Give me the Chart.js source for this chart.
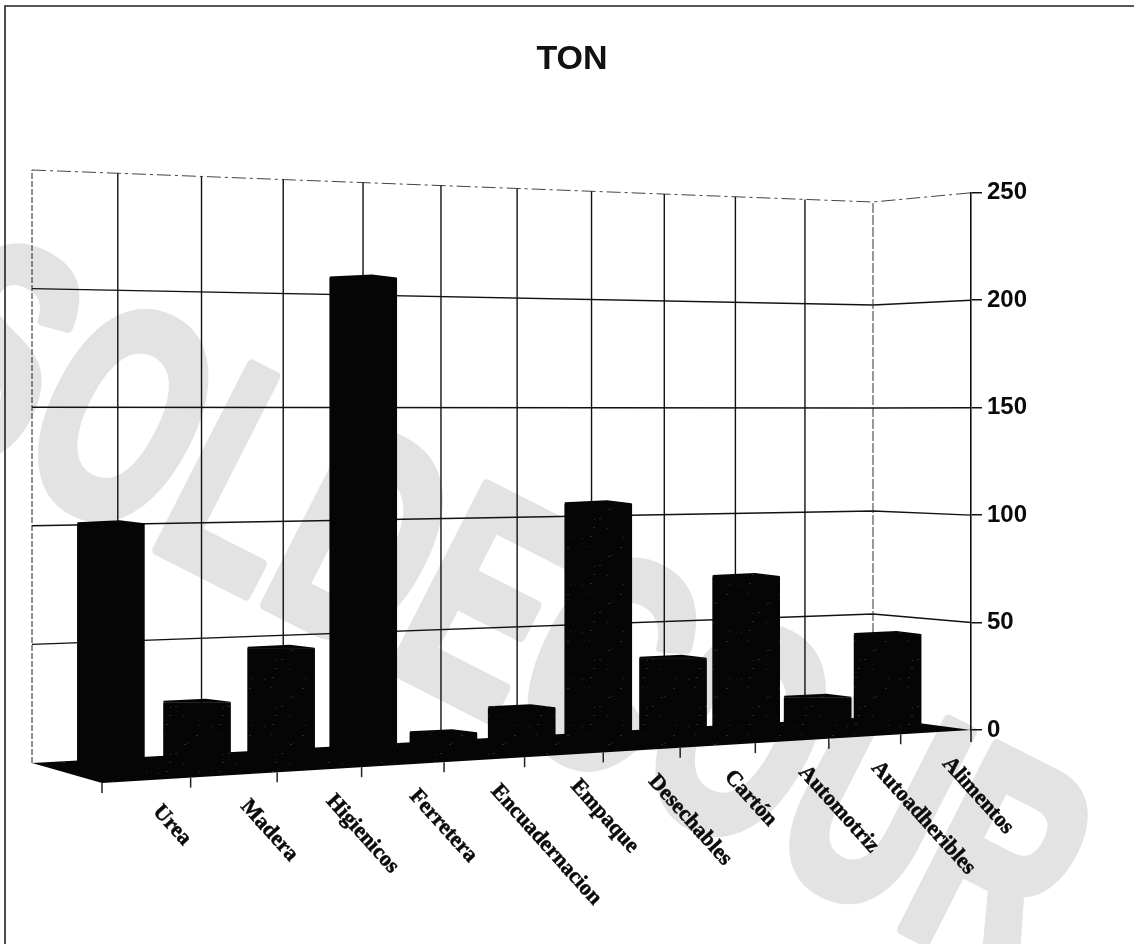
<!DOCTYPE html>
<html lang="es">
<head>
<meta charset="utf-8">
<title>TON</title>
<script src="https://cdn.jsdelivr.net/npm/chart.js@4"></script>
<style>
    html, body { margin: 0; background: #fff; }
    canvas { display: block; }
</style>
</head>
<body>
<canvas id="tonChart" width="1134" height="944"></canvas>
<script>
const categorias = ['Urea', 'Madera', 'Higienicos', 'Ferretera', 'Encuadernacion', 'Empaque',
    'Desechables', 'Cartón', 'Automotriz', 'Autoadheribles', 'Alimentos'];
const toneladas = [101, 27, 48, 204, 9, 18, 107, 37, 73, 16, 44];
const ticksY = [0, 50, 100, 150, 200, 250];

// Floor of the 3D box (back/front, left/right) and the height of the full axis at each corner
const PISO = {
    fondoIzq: [32, 763], fondoDer: [873, 717],
    frenteIzq: [102, 783], frenteDer: [971, 730]
};
const ALTO = { fondoIzq: 593, fondoDer: 515, frenteIzq: 650, frenteDer: 538 };

const lerp = (a, b, t) => a + (b - a) * t;

// The spacing of the categories shrinks towards the far end
function fuga(u) {
    const k = 1.136;
    return k * u / (1 + (k - 1) * u);
}

function punto(u, d) {
    const f = fuga(u);
    const x0 = lerp(PISO.fondoIzq[0], PISO.fondoDer[0], f);
    const y0 = lerp(PISO.fondoIzq[1], PISO.fondoDer[1], f);
    const x1 = lerp(PISO.frenteIzq[0], PISO.frenteDer[0], f);
    const y1 = lerp(PISO.frenteIzq[1], PISO.frenteDer[1], f);
    return [lerp(x0, x1, d), lerp(y0, y1, d)];
}

function alto(u, d) {
    const f = fuga(u);
    return lerp(lerp(ALTO.fondoIzq, ALTO.fondoDer, f), lerp(ALTO.frenteIzq, ALTO.frenteDer, f), d);
}

function linea(ctx, puntos, color, ancho, dash) {
    ctx.save();
    ctx.strokeStyle = color;
    ctx.lineWidth = ancho;
    ctx.setLineDash(dash || []);
    ctx.beginPath();
    puntos.forEach((p, i) => i ? ctx.lineTo(p[0], p[1]) : ctx.moveTo(p[0], p[1]));
    ctx.stroke();
    ctx.restore();
}

// Scan grain of the dark areas
function patronGrano() {
    const c = document.createElement('canvas');
    c.width = 53;
    c.height = 47;
    const g = c.getContext('2d');
    g.fillStyle = '#050505';
    g.fillRect(0, 0, 53, 47);
    g.fillStyle = '#2b2b2b';
    for (let i = 1; i < 12; i++) {
        g.fillRect((i * i * 7) % 53, (i * 19) % 47, 1 + i % 2, 1);
    }
    return g.createPattern(c, 'repeat');
}
const grano = patronGrano();

const caja3d = {
    id: 'caja3d',

    // Watermark and page frame go under everything
    beforeDraw(chart) {
        const ctx = chart.ctx;
        ctx.save();
        ctx.fillStyle = '#fff';
        ctx.fillRect(0, 0, chart.width, chart.height);
        ctx.translate(-110, 413);
        ctx.rotate(27 * Math.PI / 180);
        ctx.scale(0.66, 1);
        ctx.fillStyle = '#e3e3e3';
        ctx.strokeStyle = '#e3e3e3';
        ctx.lineWidth = 12;
        ctx.lineJoin = 'round';
        ctx.font = 'bold 300px "Liberation Sans"';
        ctx.textBaseline = 'alphabetic';
        ctx.fillText('SOLDECOUR', 0, 0);
        ctx.strokeText('SOLDECOUR', 0, 0);
        ctx.restore();
        linea(ctx, [[5, chart.height], [5, 6], [chart.width, 6]], '#222', 1.6);
    },

    // Put each bar on the floor of the box, the height still comes from the y scale
    afterDatasetsUpdate(chart) {
        const area = chart.chartArea;
        const y = chart.scales.y;
        const escalaEje = y.getPixelForValue(0) - y.getPixelForValue(ticksY[ticksY.length - 1]);
        chart.getDatasetMeta(0).data.forEach(barra => {
            const u = (barra.x - area.left) / (area.right - area.left);
            const p = punto(u, 0.5);
            const h = (barra.base - barra.y) * alto(u, 0.5) / escalaEje;
            barra.x = p[0];
            barra.y = p[1] - h + 2;
            barra.base = p[1] + 3;
        });
    },

    beforeDatasetsDraw(chart) {
        const ctx = chart.ctx;
        const y = chart.scales.y;
        const n = categorias.length;
        const y0 = y.getPixelForValue(0);
        const escalaEje = y0 - y.getPixelForValue(ticksY[ticksY.length - 1]);

        // Horizontal lines of the walls
        ticksY.slice(1).forEach(v => {
            const r = (y0 - y.getPixelForValue(v)) / escalaEje;
            const puntos = [
                [PISO.fondoIzq[0], PISO.fondoIzq[1] - ALTO.fondoIzq * r],
                [PISO.fondoDer[0], PISO.fondoDer[1] - ALTO.fondoDer * r],
                [PISO.frenteDer[0], y.getPixelForValue(v)]
            ];
            if (v === 250) linea(ctx, puntos, '#444', 1, [14, 4, 3, 4]);
            else linea(ctx, puntos, '#111', 1.4);
        });

        // Vertical lines of the back wall
        for (let i = 0; i <= n; i++) {
            const u = i / n;
            const p = punto(u, 0);
            const arriba = [p[0], p[1] - alto(u, 0)];
            if (i === 0) linea(ctx, [p, arriba], '#222', 1, [6, 2]);
            else if (i === n) linea(ctx, [p, arriba], '#333', 1, [10, 2]);
            else linea(ctx, [p, arriba], '#111', 1.4);
        }
        linea(ctx, [[PISO.frenteDer[0], y0], [PISO.frenteDer[0], y0 + 12]], '#111', 1.5);

        // Floor
        ctx.save();
        ctx.fillStyle = grano;
        ctx.beginPath();
        ctx.moveTo(PISO.fondoIzq[0], PISO.fondoIzq[1]);
        ctx.lineTo(PISO.frenteIzq[0], PISO.frenteIzq[1]);
        ctx.lineTo(PISO.frenteDer[0], PISO.frenteDer[1]);
        ctx.lineTo(PISO.fondoDer[0], PISO.fondoDer[1]);
        ctx.closePath();
        ctx.fill();
        ctx.restore();
    },

    afterDatasetsDraw(chart) {
        const ctx = chart.ctx;
        const x = chart.scales.x;
        const n = categorias.length;

        // Tops of the bars
        chart.getDatasetMeta(0).data.forEach(barra => {
            const izq = barra.x - barra.width / 2;
            const der = barra.x + barra.width / 2;
            ctx.save();
            ctx.fillStyle = barra.options.backgroundColor;
            ctx.beginPath();
            ctx.moveTo(izq, barra.y);
            ctx.lineTo(izq, barra.y - 2);
            ctx.lineTo(barra.x + barra.width * 0.13, barra.y - 4);
            ctx.lineTo(der, barra.y - 1);
            ctx.lineTo(der, barra.y);
            ctx.closePath();
            ctx.fill();
            ctx.restore();
        });

        // Ticks of the front edge
        for (let i = 0; i < n; i++) {
            const p = punto(i / n, 1);
            linea(ctx, [p, [p[0], p[1] + 10]], '#222', 1.5);
        }

        // Slanted category labels, hanging from the front edge
        ctx.save();
        ctx.fillStyle = '#0a0a0a';
        ctx.strokeStyle = '#0a0a0a';
        ctx.lineWidth = 0.5;
        ctx.font = 'bold 22px "Liberation Serif"';
        ctx.textAlign = 'left';
        ctx.textBaseline = 'middle';
        categorias.forEach((c, i) => {
            const p = punto((i + 0.5) / n, 1);
            ctx.save();
            ctx.translate(p[0] + 10, p[1] + 28);
            ctx.rotate(48 * Math.PI / 180);
            ctx.fillText(x.getLabelForValue(i), 0, 0);
            ctx.strokeText(x.getLabelForValue(i), 0, 0);
            ctx.restore();
        });
        ctx.restore();
    }
};

new Chart(document.getElementById('tonChart'), {
    type: 'bar',
    data: {
        labels: categorias,
        datasets: [{
            label: 'TON',
            data: toneladas,
            backgroundColor: ['#050505', grano, grano, '#050505', grano, grano, grano, grano, grano, grano, grano],
            barThickness: 67,
            clip: false
        }]
    },
    options: {
        responsive: false,
        animation: false,
        layout: { padding: { left: 32, right: 22, top: 0, bottom: 214 } },
        plugins: {
            legend: { display: false },
            tooltip: { enabled: false },
            title: {
                display: true,
                text: 'TON',
                color: '#111',
                font: { family: '"Liberation Sans"', weight: 'bold', size: 34 },
                padding: { top: 39, bottom: 113 }
            }
        },
        scales: {
            x: { display: false },
            y: {
                position: 'right',
                min: 0,
                max: 250,
                afterBuildTicks: scale => { scale.ticks = ticksY.map(v => ({ value: v })); },
                afterFit: scale => { scale.width = 141; },
                border: { display: true, color: '#111', width: 1.6 },
                grid: { drawOnChartArea: false, drawTicks: true, tickLength: 11, color: '#111', lineWidth: 1.5 },
                ticks: {
                    color: '#0a0a0a',
                    padding: 5,
                    font: { family: '"Liberation Sans"', weight: 'bold', size: 24 }
                }
            }
        }
    },
    plugins: [caja3d]
});
</script>
</body>
</html>
